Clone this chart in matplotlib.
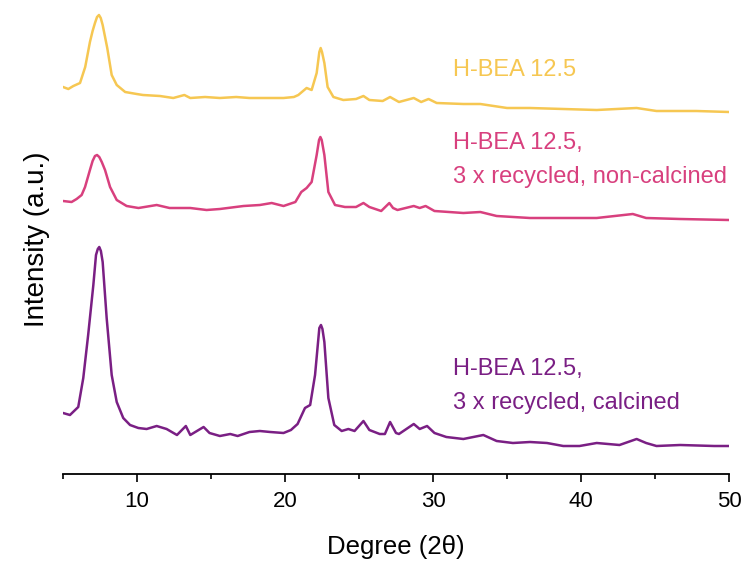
import numpy as np
import matplotlib
matplotlib.use("Agg")
from matplotlib import pyplot as plt

plt.rcParams['font.family'] = ['Liberation Sans', 'DejaVu Sans']

# H-BEA 12.5 (fresh)
deg_fresh = [5.0, 5.36, 5.7, 6.15, 6.5, 6.82, 7.0, 7.16, 7.3, 7.43, 7.55, 7.68, 7.99, 8.29, 8.63, 9.2, 9.98,
             10.4, 11.55, 12.45, 13.2, 13.6, 14.6, 15.6, 16.7, 17.6, 18.8, 19.9, 20.6, 20.9,
             21.46, 21.8, 22.14, 22.32, 22.41, 22.5, 22.66, 22.88, 23.27, 23.94, 24.8, 25.3, 25.7, 26.6,
             27.1, 27.7, 28.7, 29.2, 29.7, 30.25, 32.05, 33.2, 35.0, 36.55, 38.8, 41.06,
             43.76, 45.1, 47.8, 50.0]
int_fresh = [25, 23, 26, 29, 45, 70, 81, 89, 95, 97, 94, 87, 64, 37, 27, 20, 18,
             17, 16, 14, 17, 14, 15, 14, 15, 14, 14, 14, 15, 17,
             24, 22, 39, 60, 64, 60, 49, 25, 15, 12, 13, 16, 12, 11,
             15, 10, 14, 10, 13, 9, 8, 8, 4, 4, 3, 2,
             4, 1, 1, 0]

# 3 x recycled, non-calcined
deg_noncalc = [5.0, 5.58, 5.92, 6.26, 6.49, 6.82, 7.0, 7.16, 7.3, 7.45, 7.62, 7.84, 8.18, 8.63, 9.3, 10.1,
               11.33, 12.2, 13.6, 14.7, 15.6, 17.2, 18.3, 19.1, 19.9, 20.7, 21.1, 21.46,
               21.8, 22.14, 22.3, 22.39, 22.48, 22.66, 22.93, 23.38, 24.05, 24.8, 25.3, 25.7, 26.5,
               27.05, 27.3, 27.6, 28.7, 29.1, 29.5, 30.1, 32.05, 33.2, 34.3, 36.55, 38.8,
               41.06, 43.5, 44.4, 46.7, 50.0]
int_noncalc = [19, 18, 21, 25, 33, 50, 59, 64, 65, 63, 58, 50, 33, 20, 14, 12,
               15, 12, 12, 10, 11, 14, 15, 17, 14, 18, 28, 32,
               38, 65, 80, 83, 80, 65, 28, 15, 13, 13, 17, 13, 9,
               17, 12, 10, 14, 12, 14, 9, 7, 8, 4, 2, 2,
               2, 6, 2, 1, 0]

# 3 x recycled, calcined
deg_calc = [5.0, 5.47, 6.03, 6.37, 6.7, 7.05, 7.23, 7.35, 7.45, 7.56, 7.68, 7.95, 8.29, 8.63, 9.07,
            9.53, 10.09, 10.65, 11.33, 12.0, 12.7, 13.3, 13.6, 14.5, 14.9, 15.6, 16.3,
            16.8, 17.6, 18.3, 19.0, 19.9, 20.4, 20.85, 21.35, 21.7, 22.03, 22.32, 22.43,
            22.53, 22.66, 22.93, 23.33, 23.83, 24.28, 24.7, 25.3, 25.7, 26.4, 26.75, 27.1, 27.5,
            27.7, 28.7, 29.1, 29.6, 30.1, 30.9, 32.05, 33.4, 34.3, 35.4, 36.55, 37.7,
            38.8, 39.9, 41.06, 42.6, 43.76, 44.4, 45.1, 46.7, 49.0, 50.0]
int_calc = [33, 31, 39, 68, 111, 161, 191, 197, 199, 195, 184, 128, 71, 44, 28,
            21, 18, 17, 20, 17, 11, 20, 11, 19, 13, 10, 12,
            10, 14, 15, 14, 13, 16, 22, 38, 41, 71, 118, 121,
            117, 104, 48, 21, 15, 17, 15, 25, 16, 12, 12, 24, 13,
            12, 22, 17, 20, 13, 9, 7, 11, 5, 3, 4, 3,
            0, 0, 3, 1, 7, 3, 0, 1, 0, 0]

offsets = [362, 254, 28]
colors = ['#F6C752', '#D8407E', '#7A1F84']
labels = ['H-BEA 12.5', 'H-BEA 12.5,\n3 x recycled, non-calcined', 'H-BEA 12.5,\n3 x recycled, calcined']
label_y = [404, 314, 88]

fig = plt.figure(figsize=(7.45, 5.62), dpi=100)
ax = fig.add_axes([63/745, 88/562, 666/745, 469/562])

series = [(deg_fresh, int_fresh), (deg_noncalc, int_noncalc), (deg_calc, int_calc)]
for (d, i), off, c in zip(series, offsets, colors):
    ax.plot(d, np.array(i) + off, color=c, lw=1.8, solid_joinstyle='round')

for lab, y, c in zip(labels, label_y, colors):
    ax.text(31.35, y, lab, color=c, fontsize=17, va='center', ha='left', linespacing=1.65)

ax.set_xlim(5, 50)
ax.set_ylim(0, 469)
ax.set_xticks([10, 20, 30, 40, 50])
ax.set_xticks([5, 15, 25, 35, 45], minor=True)
ax.tick_params(axis='x', which='major', length=6, width=1.2, labelsize=16, pad=6)
ax.tick_params(axis='x', which='minor', length=3.5, width=1.2)
ax.set_yticks([])
for s in ['left', 'top', 'right']:
    ax.spines[s].set_visible(False)
ax.spines['bottom'].set_linewidth(1.3)

ax.set_xlabel('Degree (2θ)', fontsize=18.5, labelpad=17)
ax.set_ylabel('Intensity (a.u.)', fontsize=20, labelpad=9)

fig.savefig('out.png', dpi=100)
